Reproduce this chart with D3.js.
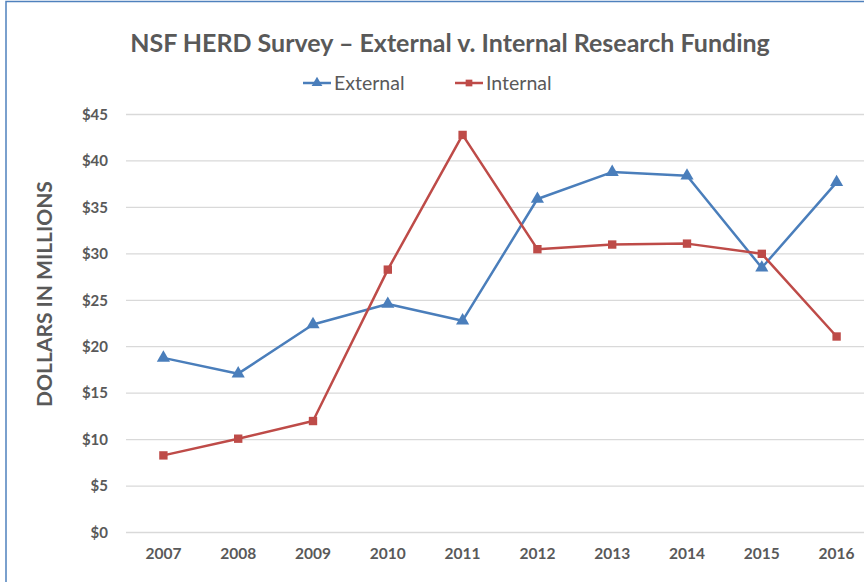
<!DOCTYPE html>
<html>
<head>
<meta charset="utf-8">
<script src="https://cdn.jsdelivr.net/npm/d3@7"></script>
<style>
  body { margin: 0; background: #fff; }
  svg { display: block; }
</style>
</head>
<body>
<script>
// data
var years = ["2007","2008","2009","2010","2011","2012","2013","2014","2015","2016"];
var external = [18.8, 17.1, 22.4, 24.6, 22.8, 35.9, 38.8, 38.4, 28.5, 37.7];
var internal = [8.3, 10.1, 12.0, 28.3, 42.8, 30.5, 31.0, 31.1, 30.0, 21.1];
var yTicks = [0, 5, 10, 15, 20, 25, 30, 35, 40, 45];

var width = 864, height = 582;
var grey = "#595959";
var blue = "#4a7ebb";
var red = "#be4b48";

var svg = d3.select("body")
  .append("svg")
  .attr("width", width)
  .attr("height", height)
  ;

// outer chart border (only top & left show in the picture)
svg.append("rect")
  .attr("x", 6)
  .attr("y", 1.5)
  .attr("width", 900)
  .attr("height", 620)
  .attr("fill", "none")
  .attr("stroke", "#4f81bd")
  .attr("stroke-width", 1.5)
  ;

var x = d3.scaleBand()
  .domain(years)
  .range([126, 874]);

var y = d3.scaleLinear()
  .domain([0, 45])
  .range([532.5, 114.5]);

// gridlines
svg.append("g")
  .selectAll("line")
  .data(yTicks)
  .enter()
  .append("line")
  .attr("x1", 126)
  .attr("x2", width)
  .attr("y1", d => y(d))
  .attr("y2", d => y(d))
  .attr("stroke", "#d9d9d9")
  .attr("stroke-width", 1.3)
  ;

// y axis labels
var yAxis = svg.append("g")
  .attr("transform", "translate(108,0)")
  .call(d3.axisLeft(y).tickValues(yTicks).tickSize(0).tickPadding(0).tickFormat(d => "$" + d));
yAxis.select(".domain").remove();
yAxis.selectAll("text")
  .attr("fill", grey)
  .style("font-family", "Lato, 'Open Sans', sans-serif")
  .style("font-weight", "bold")
  .style("font-size", "15px")
  ;

// x axis labels
var xAxis = svg.append("g")
  .attr("transform", "translate(0,545)")
  .call(d3.axisBottom(x).tickSize(0).tickPadding(0));
xAxis.select(".domain").remove();
xAxis.selectAll("text")
  .attr("fill", grey)
  .attr("dy", "0.9em")
  .style("font-family", "Lato, 'Open Sans', sans-serif")
  .style("font-weight", "bold")
  .style("font-size", "15.5px")
  ;

// y title
svg.append("text")
  .attr("transform", "translate(52,294) rotate(-90)")
  .attr("text-anchor", "middle")
  .attr("fill", grey)
  .style("font-family", "Lato, 'Open Sans', sans-serif")
  .style("font-weight", "bold")
  .style("font-size", "21px")
  .text("DOLLARS IN MILLIONS")
  ;

// chart title
svg.append("text")
  .attr("x", 450)
  .attr("y", 52)
  .attr("text-anchor", "middle")
  .attr("fill", grey)
  .style("font-family", "Lato, 'Open Sans', sans-serif")
  .style("font-weight", "bold")
  .style("font-size", "25px")
  .text("NSF HERD Survey \u2013 External v. Internal Research Funding")
  ;

var line = d3.line()
  .x((d, i) => x(years[i]) + x.bandwidth() / 2)
  .y(d => y(d));

var series = [
  {name: "External", values: external, color: blue, shape: d3.symbolTriangle, lx: 303},
  {name: "Internal", values: internal, color: red, shape: d3.symbolSquare, lx: 455}
];

series.forEach(function(s){
  svg.append("path")
    .datum(s.values)
    .attr("d", line)
    .attr("fill", "none")
    .attr("stroke", s.color)
    .attr("stroke-width", 2.5)
    .attr("stroke-linejoin", "round")
    ;
  svg.append("g")
    .selectAll("path")
    .data(s.values)
    .enter()
    .append("path")
    .attr("transform", (d, i) => "translate(" + (x(years[i]) + x.bandwidth() / 2) + "," + y(d) + ")")
    .attr("d", d3.symbol().type(s.shape).size(s.shape === d3.symbolSquare ? 70 : 75))
    .attr("fill", s.color)
    ;

  // legend
  svg.append("line")
    .attr("x1", s.lx)
    .attr("x2", s.lx + 28)
    .attr("y1", 83)
    .attr("y2", 83)
    .attr("stroke", s.color)
    .attr("stroke-width", 2.5)
    ;
  svg.append("path")
    .attr("transform", "translate(" + (s.lx + 14) + ",83)")
    .attr("d", d3.symbol().type(s.shape).size(s.shape === d3.symbolSquare ? 45 : 50))
    .attr("fill", s.color)
    ;
  svg.append("text")
    .attr("x", s.lx + 31)
    .attr("y", 83)
    .attr("dy", "0.35em")
    .attr("fill", grey)
    .style("font-family", "Lato, 'Open Sans', sans-serif")
    .style("font-size", "19.5px")
    .text(s.name)
    ;
});
</script>
</body>
</html>
